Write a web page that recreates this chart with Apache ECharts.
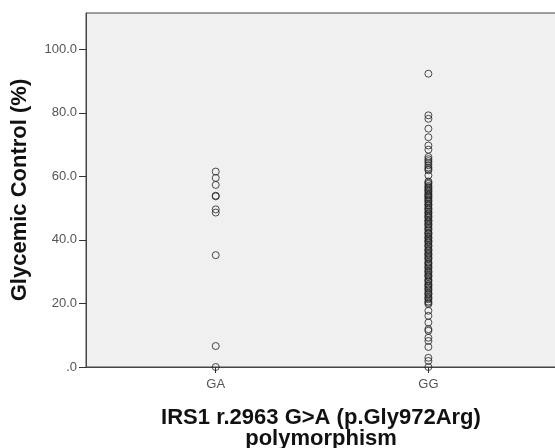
<!DOCTYPE html>
<html>
<head>
<meta charset="utf-8">
<script src="https://cdn.jsdelivr.net/npm/echarts@6/dist/echarts.min.js"></script>
<style>
  html, body { margin: 0; padding: 0; background: #fff; }
  #main { width: 555px; height: 448px; }
</style>
</head>
<body>
<div id="main"></div>
<script>
// genotype groups
var categories = ['GA', 'GG'];

// glycemic control (%) per patient
var gaValues = [0.0, 6.6, 35.2, 48.6, 49.6, 53.7, 53.9, 57.3, 59.5, 61.5];
var ggValues = [
  92.3, 79.2, 78.1, 75.0, 72.3, 69.7, 68.4, 66.1, 65.4, 64.8,
  64.2, 63.5, 62.8, 62.3, 61.9, 60.3, 58.4, 58.0, 57.6, 57.0,
  56.6, 56.3, 55.8, 55.5, 55.1, 54.6, 54.2, 53.9, 53.5, 53.2,
  52.7, 52.3, 52.0, 51.4, 51.0, 50.8, 50.1, 49.8, 49.5, 48.9,
  48.5, 48.2, 47.6, 47.3, 47.0, 46.3, 46.0, 45.7, 45.1, 44.8,
  44.4, 43.8, 43.4, 43.0, 42.3, 42.0, 41.8, 41.1, 40.7, 40.4,
  39.8, 39.5, 39.2, 38.5, 38.1, 37.9, 37.1, 36.8, 36.5, 35.8,
  35.5, 35.2, 34.6, 34.2, 33.9, 33.1, 32.7, 32.4, 31.8, 31.4,
  31.0, 30.3, 30.0, 29.7, 29.0, 28.7, 28.4, 27.6, 27.2, 26.9,
  26.2, 25.8, 25.5, 24.9, 24.5, 24.1, 23.4, 23.0, 22.8, 22.0,
  21.7, 21.3, 20.6, 20.2, 19.8, 17.7, 16.1, 14.0, 11.9, 11.4,
  9.2, 8.2, 6.3, 2.9, 1.9, 0.0
];
var yTicks = [0, 20, 40, 60, 80, 100];

var font = "'Liberation Sans', Arial, sans-serif";

// category index 1, 2 on the x axis
var points = [];
gaValues.forEach(function (v) { points.push([1, v]); });
ggValues.forEach(function (v) { points.push([2, v]); });

var myChart = echarts.init(document.getElementById('main'));

var option = {
  animation: false,
  grid: {
    left: 86,
    top: 13,
    right: -1,
    bottom: 81,
    outerBoundsMode: 'none',
    show: true,
    backgroundColor: '#f0f0f0',
    borderColor: '#444',
    borderWidth: 1
  },
  xAxis: {
    type: 'value',
    min: 0.39,
    max: 2.6,
    name: 'IRS1 r.2963 G>A (p.Gly972Arg)\npolymorphism',
    nameLocation: 'middle',
    nameGap: 40,
    nameTextStyle: {
      fontFamily: font, fontSize: 22, fontWeight: 'bold', color: '#111', lineHeight: 21
    },
    axisLine: { show: true, lineStyle: { color: '#444', width: 1 } },
    axisTick: {
      show: true, length: 6, customValues: [1, 2],
      lineStyle: { color: '#333' }
    },
    axisLabel: {
      customValues: [1, 2],
      margin: 11,
      fontFamily: font, fontSize: 13, color: '#555',
      formatter: function (v) { return categories[Math.round(v) - 1]; }
    },
    splitLine: { show: false }
  },
  yAxis: {
    type: 'value',
    min: 0,
    max: 111.4,
    name: 'Glycemic Control (%)',
    nameLocation: 'middle',
    nameGap: 55,
    nameTextStyle: {
      fontFamily: font, fontSize: 22, fontWeight: 'bold', color: '#111'
    },
    axisLine: { show: true, lineStyle: { color: '#444', width: 1 } },
    axisTick: {
      show: true, length: 7, customValues: yTicks,
      lineStyle: { color: '#333' }
    },
    axisLabel: {
      customValues: yTicks,
      margin: 9,
      fontFamily: font, fontSize: 13, color: '#555',
      formatter: function (v) { return v === 0 ? '.0' : v.toFixed(1); }
    },
    splitLine: { show: false }
  },
  series: [
    {
      type: 'scatter',
      data: points,
      symbol: 'circle',
      symbolSize: 7,
      itemStyle: {
        color: 'transparent',
        borderColor: '#222',
        borderWidth: 1
      }
    }
  ]
};

myChart.setOption(option);
</script>
</body>
</html>
